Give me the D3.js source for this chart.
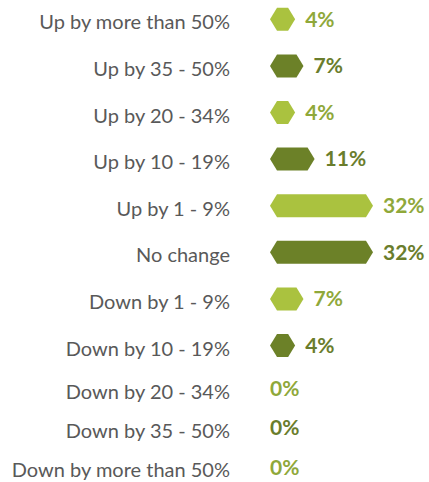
<!DOCTYPE html>
<html>
<head>
<meta charset="utf-8">
<script src="https://cdn.jsdelivr.net/npm/d3@7"></script>
<style>
  html, body { margin: 0; padding: 0; background: #fff; }
  svg { display: block; }
</style>
</head>
<body>
<svg id="chart" width="429" height="482"></svg>
<script>
// Share of respondents by change category
const categories = [
  "Up by more than 50%",
  "Up by 35 - 50%",
  "Up by 20 - 34%",
  "Up by 10 - 19%",
  "Up by 1 - 9%",
  "No change",
  "Down by 1 - 9%",
  "Down by 10 - 19%",
  "Down by 20 - 34%",
  "Down by 35 - 50%",
  "Down by more than 50%"
];
const values = [4, 7, 4, 11, 32, 32, 7, 4, 0, 0, 0];
const valueLabels = values.map(v => v + "%");

const fillLight = "#aac23f", fillDark = "#6c8128";
const textLight = "#8fa83a", textDark = "#6a7d2c";
const labelColor = "#595959";

const svg = d3.select("#chart");

// rows without a bar are drawn a little shorter
const rowWeight = values.map(v => v > 0 ? 1 : 0.845);
const offsets = [];
let acc = 0;
rowWeight.forEach(w => { offsets.push(acc + w / 2); acc += w; });
const y = d3.scaleLinear().domain([0, acc]).range([-4, 487]);

const x0 = 270, cap = 7, barH = 23;
const x = d3.scaleLinear().domain([0, 32]).range([0, 89]);

const rows = svg.append("g").selectAll("g")
  .data(categories.map((c, i) => ({ c, v: values[i], label: valueLabels[i], i })))
  .join("g")
  .attr("transform", d => `translate(0,${y(offsets[d.i])})`);

rows.append("text")
  .attr("x", 230)
  .attr("y", 3)
  .attr("dy", "0.35em")
  .attr("text-anchor", "end")
  .attr("font-family", "Lato, 'Open Sans', sans-serif")
  .attr("font-size", 20)
  .attr("fill", labelColor)
  .text(d => d.c);

// hexagonal bars: flat body plus pointed end caps
function hexPath(w) {
  const h = barH / 2;
  return `M${x0},0 L${x0 + cap},${-h} L${x0 + cap + w},${-h} L${x0 + 2 * cap + w},0 L${x0 + cap + w},${h} L${x0 + cap},${h} Z`;
}

rows.filter(d => d.v > 0).append("path")
  .attr("d", d => hexPath(x(d.v)))
  .attr("fill", d => d.i % 2 ? fillDark : fillLight);

rows.append("text")
  .attr("x", d => d.v > 0 ? x0 + 2 * cap + x(d.v) + 10 : x0)
  .attr("y", 0)
  .attr("dy", "0.35em")
  .attr("font-family", "Lato, 'Open Sans', sans-serif")
  .attr("font-weight", "bold")
  .attr("font-size", 21)
  .attr("fill", d => d.i % 2 ? textDark : textLight)
  .text(d => d.label);
</script>
</body>
</html>
